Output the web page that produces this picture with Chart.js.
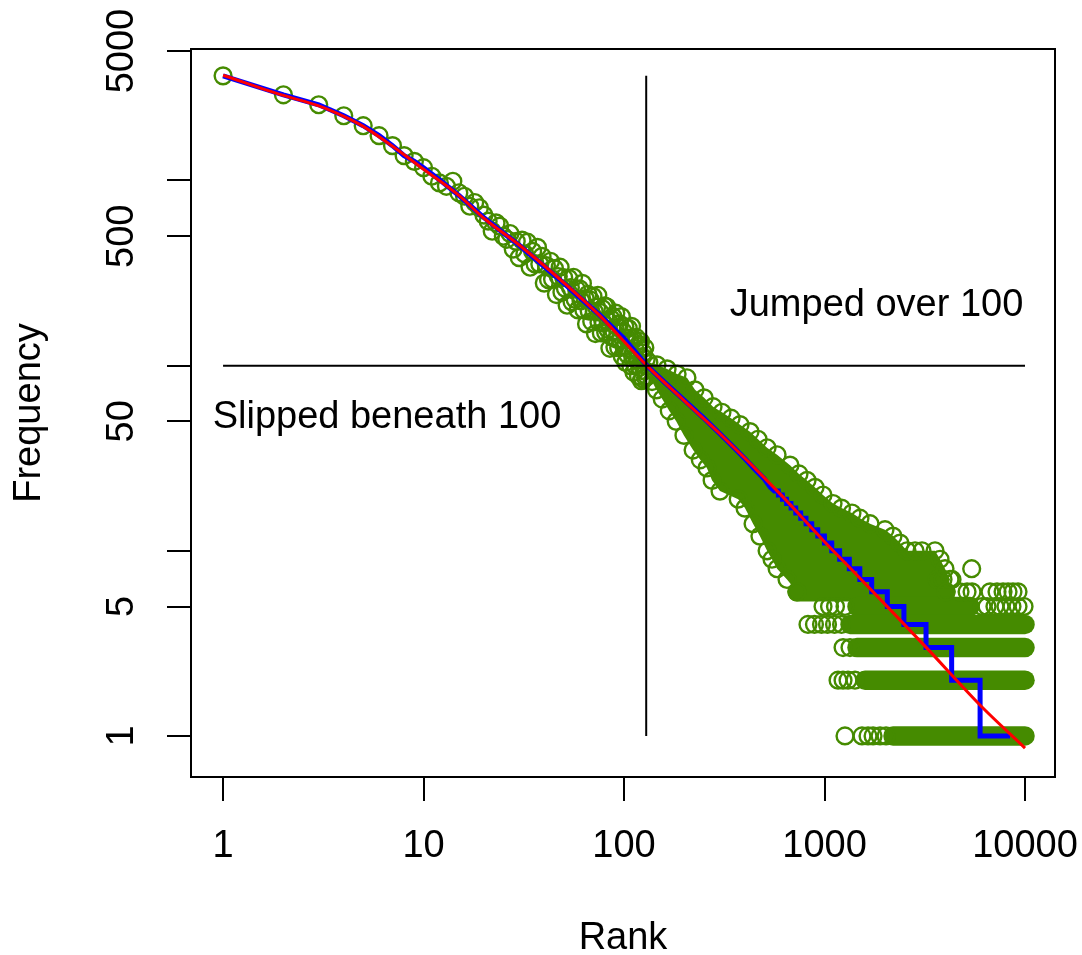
<!DOCTYPE html>
<html lang="en">
<head>
<meta charset="UTF-8">
<title>Rank / Frequency</title>
<script src="https://cdn.jsdelivr.net/npm/chart.js"></script>
<style>
  body { margin: 0; background: #fff; }
  #wrap { width: 1082px; height: 955px; }
</style>
</head>
<body>
<div id="wrap"><canvas id="rankChart" width="1082" height="955"></canvas></div>
<script>
// axis ticks
const rankTicks = [1, 10, 100, 1000, 10000];
const freqTicks = [1, 5, 10, 50, 100, 500, 1000, 5000];
const freqLabels = ['1', '5', '', '50', '', '500', '', '5000'];

// frequency in the second sample for ranks 1..130 (one circle per rank)
const headFreq = [
  3673, 2902, 2564, 2237, 1976, 1746, 1542, 1362, 1268, 1172,
  1054, 970, 930, 990, 858, 822, 726, 760, 712, 650,
  603, 532, 590, 567, 500, 481, 517, 426, 469, 383,
  476, 401, 464, 340, 414, 354, 435, 354, 389, 279,
  347, 291, 366, 293, 334, 242, 303, 340, 249, 299,
  261, 212, 296, 264, 221, 300, 228, 258, 200, 260,
  224, 278, 200, 230, 168, 243, 197, 226, 173, 237,
  196, 149, 207, 240, 171, 194, 150, 203, 170, 210,
  151, 208, 157, 173, 124, 179, 143, 184, 153, 126,
  192, 139, 161, 125, 168, 138, 184, 112, 153, 126,
  162, 104, 141, 115, 159, 123, 141, 100, 163, 114,
  140, 92, 124, 100, 142, 107, 127, 88, 130, 98,
  135, 83, 112, 85, 117, 94, 125, 86, 108, 88
];

// outline of the dense cloud past rank 130: upper edge left to right, lower edge back
const cloudRank = [
  133, 146, 164, 184, 206, 226, 251, 278, 308, 342, 379, 425, 466, 517, 580, 673,
  746, 818, 897, 983, 1103, 1216, 1371, 1503, 1687, 2003, 2196, 2380, 2579, 2828,
  3064, 3557, 3768, 3990, 4226, 4036,
  729, 650, 580, 547, 517, 476, 440, 401, 371, 301, 275, 259, 240, 221, 199, 182,
  168, 155, 145, 138
];
const cloudFreq = [
  104, 101, 96, 90, 86, 74, 67, 60, 56, 52, 48, 44, 40, 36, 33, 29,
  26, 24, 22, 20, 18, 17, 16, 15, 14, 13, 12, 11, 10, 10,
  10, 10, 9, 8, 7, 6,
  6, 7, 8, 9, 10, 12, 14, 17, 19, 21, 24, 28, 31, 35, 42, 50,
  57, 66, 74, 82
];

// solid runs of circles along the lowest frequencies
const rowFreq = [1, 2, 3, 4, 5, 6];
const rowFrom = [2196, 1592, 1452, 1340, 1452, 729];
const rowTo = [10000, 10000, 10000, 10000, 5318, 4036];

// loose circles at the ends of those runs
const looseRank = [
  1265, 1538, 1648, 1746, 1892, 2027,
  1168, 1237, 1310, 1419,
  1237, 1340,
  827, 891, 966, 1035, 1122, 1216,
  983, 1059, 1134, 1265,
  6107, 6464, 7080, 7500, 8036, 8610, 9230, 9890,
  4742, 5140, 5443, 6690, 7250, 7770, 8230, 8710, 9230,
  3640, 3900, 4325, 5420
];
const looseFreq = [
  1, 1, 1, 1, 1, 1,
  2, 2, 2, 2,
  3, 3,
  4, 4, 4, 4, 4, 4,
  5, 5, 5, 5,
  5, 5, 5, 5, 5, 5, 5, 5,
  6, 6, 6, 6, 6, 6, 6, 6, 6,
  7, 7, 7, 8
];

// sorted frequencies of the first sample (blue)
const sortedRank = [1, 2, 3, 4, 5, 6, 7, 8, 9, 10, 12, 15, 20, 25, 30, 40, 50, 60, 75,
  100, 130, 160, 200, 250, 300, 350, 400, 450, 500, 537];
const sortedFreq = [3673, 2902, 2564, 2237, 1976, 1746, 1542, 1362, 1268, 1172, 1010, 830,
  630, 520, 447, 343, 279, 234, 189, 140, 100, 81, 65, 52, 43, 36.5, 31.5, 27.5, 24.5, 22];
// first rank holding each of the small frequencies
const stepFreq = [21, 20, 19, 18, 17, 16, 15, 14, 13, 12, 11, 10, 9, 8, 7, 6, 5, 4, 3, 2, 1];
const stepStart = [562, 589, 617, 647, 681, 719, 761, 809, 864, 926, 1000, 1087, 1190,
  1330, 1500, 1719, 2057, 2489, 3209, 4306, 5970];
const sortedLast = 8420;

// fitted curve (red)
const fitRank = [1, 2, 3, 4, 5, 7, 10, 15, 20, 30, 50, 75, 130, 200, 300, 600, 1000, 1450,
  2000, 3240, 5960, 10000];
const fitFreq = [3700, 2880, 2530, 2220, 1960, 1530, 1150, 830, 625, 448, 281, 188, 100,
  64.5, 43, 20.3, 11.2, 7.4, 5.15, 2.98, 1.47, 0.86];

// cut lines
const cutRank = 129;
const cutFreq = 100;
const topFreq = 3673;

const notes = ['Jumped over 100', 'Slipped beneath 100'];
const noteRank = [1817, 6.57];
const noteFreq = [211, 52.2];

const GREEN = '#458B00';
const FONT = '"Liberation Sans", Arial, Helvetica, sans-serif';

function pts(xs, ys) {
  return xs.map((x, i) => ({ x: x, y: ys[i] }));
}

const headRank = headFreq.map((_, i) => i + 1);

const sortedPts = pts(sortedRank, sortedFreq);
stepFreq.forEach((f, i) => {
  const end = i + 1 < stepStart.length ? stepStart[i + 1] - 1 : sortedLast;
  sortedPts.push({ x: stepStart[i], y: f }, { x: end, y: f });
});

const ring = {
  showLine: false,
  pointRadius: 8.4,
  pointHoverRadius: 8.4,
  pointBorderWidth: 2.4,
  pointBorderColor: GREEN,
  pointBackgroundColor: 'rgba(0,0,0,0)',
  order: 8
};

const rowSets = rowFreq.map((f, i) => ({
  data: [{ x: rowFrom[i], y: f }, { x: rowTo[i], y: f }],
  borderColor: GREEN,
  borderWidth: 19.5,
  borderCapStyle: 'round',
  pointRadius: 0,
  order: 9
}));

const frame = {
  id: 'frame',
  afterDraw(chart) {
    const { ctx, chartArea: a, scales } = chart;
    ctx.save();
    ctx.strokeStyle = '#000';
    ctx.lineWidth = 2;
    ctx.strokeRect(a.left, a.top, a.right - a.left, a.bottom - a.top);
    ctx.fillStyle = '#000';
    ctx.font = '38px ' + FONT;
    ctx.textAlign = 'center';
    ctx.textBaseline = 'middle';
    notes.forEach((t, i) => {
      ctx.fillText(t, scales.x.getPixelForValue(noteRank[i]), scales.y.getPixelForValue(noteFreq[i]));
    });
    ctx.restore();
  }
};

const tickFont = { family: FONT, size: 38, lineHeight: 1 };

new Chart(document.getElementById('rankChart'), {
  type: 'line',
  data: {
    datasets: [
      {
        data: pts(cloudRank, cloudFreq),
        fill: 'shape',
        backgroundColor: GREEN,
        borderWidth: 0,
        pointRadius: 0,
        order: 10
      },
      ...rowSets,
      Object.assign({ data: pts(headRank, headFreq) }, ring),
      Object.assign({ data: pts(cloudRank, cloudFreq) }, ring),
      Object.assign({ data: pts(looseRank, looseFreq) }, ring),
      {
        data: sortedPts,
        borderColor: '#0000FF',
        borderWidth: 5,
        pointRadius: 0,
        order: 3
      },
      {
        data: pts(fitRank, fitFreq),
        borderColor: '#FF0000',
        borderWidth: 3,
        cubicInterpolationMode: 'monotone',
        pointRadius: 0,
        order: 2
      },
      {
        data: [{ x: cutRank, y: 1 }, { x: cutRank, y: topFreq }],
        borderColor: '#000',
        borderWidth: 2,
        pointRadius: 0,
        order: 1
      },
      {
        data: [{ x: 1, y: cutFreq }, { x: 10000, y: cutFreq }],
        borderColor: '#000',
        borderWidth: 2,
        pointRadius: 0,
        order: 1
      }
    ]
  },
  options: {
    responsive: false,
    animation: false,
    devicePixelRatio: 1,
    layout: { padding: { top: 49, right: 27, bottom: 0, left: 0 }, autoPadding: false },
    plugins: { legend: { display: false }, tooltip: { enabled: false } },
    scales: {
      x: {
        type: 'logarithmic',
        min: 0.692,
        max: 14112,
        afterBuildTicks: s => { s.ticks = rankTicks.map(v => ({ value: v })); },
        afterFit: s => { s.height = 178; s.paddingLeft = 0; s.paddingRight = 0; },
        ticks: {
          callback: (v, i) => String(rankTicks[i]),
          autoSkip: false,
          maxRotation: 0,
          padding: 27,
          color: '#000',
          font: tickFont
        },
        grid: {
          drawOnChartArea: false,
          drawTicks: true,
          tickLength: 24,
          tickWidth: 2,
          tickColor: '#000',
          color: '#000',
          lineWidth: 2
        },
        border: { display: false },
        title: {
          display: true,
          text: 'Rank',
          color: '#000',
          font: tickFont,
          padding: { top: 0, bottom: -2.5 }
        }
      },
      y: {
        type: 'logarithmic',
        min: 0.6166,
        max: 5130,
        afterBuildTicks: s => { s.ticks = freqTicks.map(v => ({ value: v })); },
        afterFit: s => { s.width = 191; s.paddingTop = 0; s.paddingBottom = 0; },
        ticks: {
          callback: (v, i) => freqLabels[i],
          autoSkip: false,
          minRotation: 90,
          maxRotation: 90,
          crossAlign: 'center',
          padding: 2.25,
          color: '#000',
          font: tickFont
        },
        grid: {
          drawOnChartArea: false,
          drawTicks: true,
          tickLength: 24,
          tickWidth: 2,
          tickColor: '#000',
          color: '#000',
          lineWidth: 2
        },
        border: { display: false },
        title: {
          display: true,
          text: 'Frequency',
          color: '#000',
          font: tickFont,
          padding: { top: 10.5, bottom: 0 }
        }
      }
    }
  },
  plugins: [frame]
});
</script>
</body>
</html>
